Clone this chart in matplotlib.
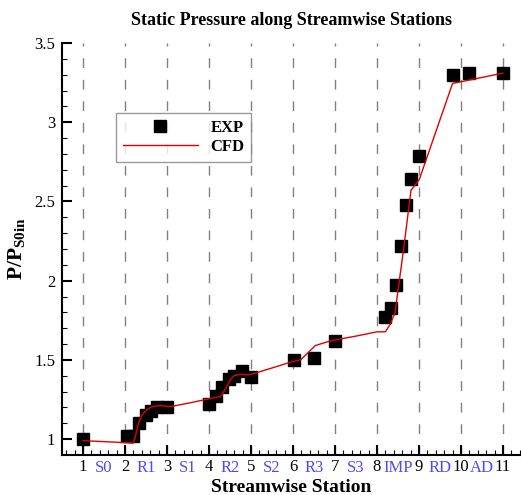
import numpy as np
import matplotlib
matplotlib.use('Agg')
import matplotlib.pyplot as plt

plt.rcParams['font.family'] = ['Liberation Serif', 'DejaVu Serif']
plt.rcParams['mathtext.fontset'] = 'custom'
plt.rcParams['mathtext.rm'] = 'Liberation Serif:bold'
plt.rcParams['mathtext.bf'] = 'Liberation Serif:bold'

# datos experimentales
exp_x = [1.0, 2.05, 2.2, 2.34, 2.5, 2.62, 2.77, 3.0, 4.0, 4.17, 4.3, 4.47, 4.6, 4.79, 5.0,
         6.02, 6.5, 7.0, 8.2, 8.33, 8.45, 8.57, 8.69, 8.8, 9.0, 9.8, 10.2, 11.0]
exp_y = [1.0, 1.02, 1.02, 1.10, 1.15, 1.18, 1.20, 1.20, 1.22, 1.27, 1.33, 1.38, 1.40, 1.43, 1.39,
         1.50, 1.51, 1.62, 1.77, 1.83, 1.97, 2.22, 2.48, 2.64, 2.79, 3.30, 3.31, 3.31]

# curva CFD
cfd_x = [1.0, 2.2, 2.26, 2.31, 2.4, 2.54, 2.65, 2.77, 2.9, 3.09, 3.57, 4.28, 4.4, 4.52, 4.6,
         4.75, 4.9, 5.03, 6.0, 6.18, 6.34, 6.53, 6.89, 7.5, 8.0, 8.2, 8.32, 8.43, 8.63, 8.81,
         9.01, 9.8, 11.0]
cfd_y = [0.99, 0.975, 1.03, 1.09, 1.15, 1.19, 1.205, 1.21, 1.21, 1.205, 1.23, 1.27, 1.32, 1.38, 1.40,
         1.41, 1.405, 1.41, 1.49, 1.50, 1.54, 1.59, 1.62, 1.65, 1.677, 1.677, 1.726, 1.80, 2.19, 2.57,
         2.64, 3.245, 3.31]

estaciones = [1, 2, 3, 4, 5, 6, 7, 8, 9, 10, 11]
nombres = ['S0', 'R1', 'S1', 'R2', 'S2', 'R3', 'S3', 'IMP', 'RD', 'AD']

fig = plt.figure(figsize=(5.21, 4.95), dpi=100)
ax = fig.add_axes([0.119, 0.081, 0.881, 0.832])

for e in estaciones:
    ax.axvline(e, color='#808080', lw=1.0, ls=(0, (7, 8.5)), zorder=1)

ax.plot(exp_x, exp_y, 's', color='black', markersize=9, label='EXP', zorder=3)
ax.plot(cfd_x, cfd_y, '-', color='#e00000', lw=1.0, label='CFD', zorder=4)

ax.set_xlim(0.5, 11.43)
ax.set_ylim(0.9, 3.5)

ax.spines['top'].set_visible(False)
ax.spines['right'].set_visible(False)
ax.spines['left'].set_linewidth(1.5)
ax.spines['bottom'].set_linewidth(1.5)

ax.set_xticks(estaciones)
ax.set_xticklabels([str(e) for e in estaciones])
ax.set_xticks(np.arange(0.6, 11.41, 0.2), minor=True)
ax.set_yticks([1, 1.5, 2, 2.5, 3, 3.5])
ax.set_yticklabels(['1', '1.5', '2', '2.5', '3', '3.5'])
ax.set_yticks(np.arange(1.0, 3.51, 0.1), minor=True)
ax.tick_params(which='major', direction='in', length=7, width=1.5, labelsize=12)
ax.tick_params(axis='x', which='major', pad=3)
ax.tick_params(axis='y', which='major', pad=5)
ax.tick_params(which='minor', direction='in', length=3.5, width=0.8)

for i, n in enumerate(nombres):
    ax.text(estaciones[i] + 0.5, -0.012, n, color='#4a4aff', fontsize=12,
            ha='center', va='top', transform=ax.get_xaxis_transform())

ax.set_title('Static Pressure along Streamwise Stations', fontsize=13, fontweight='bold', pad=13)
ax.set_xlabel('Streamwise Station', fontsize=14, fontweight='bold', labelpad=3)
ax.set_ylabel('P/P$_{\\mathregular{S0in}}$', fontsize=15.5, fontweight='bold', labelpad=4)

leg = ax.legend(loc='upper left', bbox_to_anchor=(0.10, 0.85), frameon=True, fancybox=False,
                handlelength=4.5, handletextpad=0.75, labelspacing=0.2, borderpad=0.4,
                numpoints=1, prop={'weight': 'bold', 'size': 12})
leg.get_frame().set_edgecolor('#808080')
leg.get_frame().set_linewidth(1.0)

plt.savefig('out.png', dpi=100)
